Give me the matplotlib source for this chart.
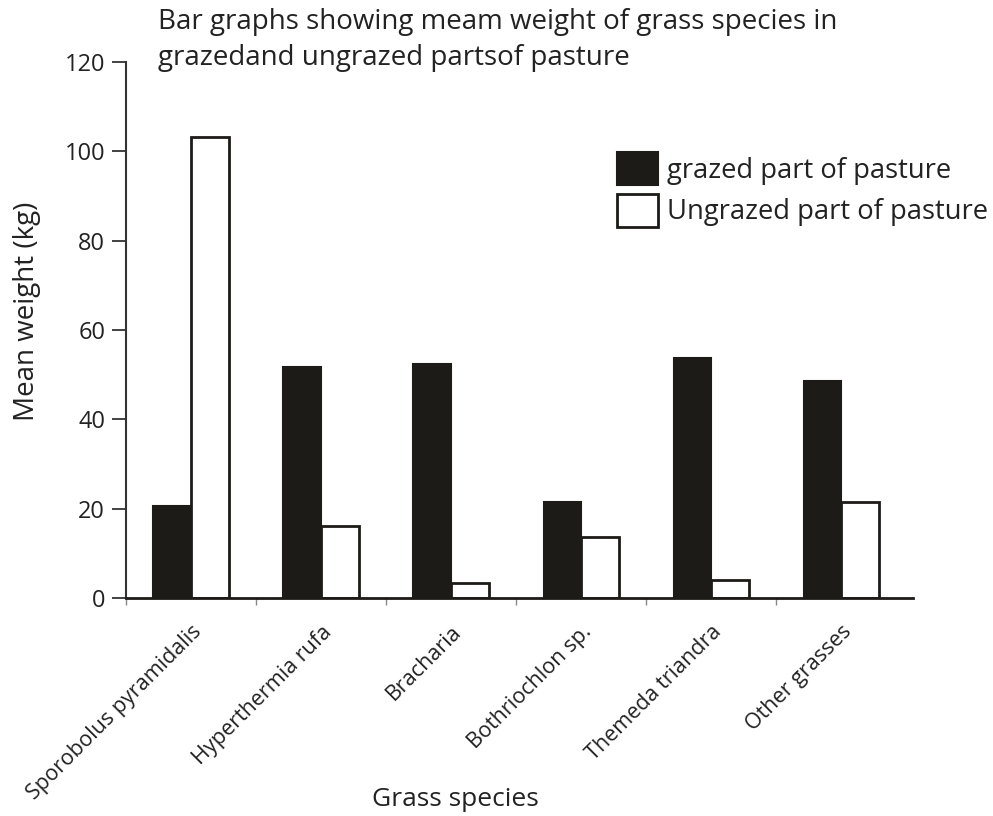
import matplotlib
matplotlib.use("Agg")
import matplotlib.pyplot as plt
from matplotlib.patches import Patch
import numpy as np

species = ['Sporobolus pyramidalis', 'Hyperthermia rufa', 'Bracharia',
           'Bothriochlon sp.', 'Themeda triandra', 'Other grasses']
grazed = [20.7, 51.7, 52.3, 21.6, 53.8, 48.5]
ungrazed = [103.2, 16.1, 3.4, 13.7, 4.1, 21.6]
y_ticks = [0, 20, 40, 60, 80, 100, 120]

plt.rcParams['font.family'] = ['Open Sans', 'DejaVu Sans']
ink = '#1c1b17'

fig = plt.figure(figsize=(9.93, 8.16), dpi=100)
ax = fig.add_axes([126 / 993, 1 - 598 / 816, 787 / 993, 536 / 816])

x = np.arange(len(species))
w = 0.29
ax.bar(x - w / 2, grazed, w, color=ink, edgecolor=ink, linewidth=1.5)
ax.bar(x + w / 2, ungrazed, w, color='white', edgecolor=ink, linewidth=2)

ax.set_xlim(-0.5, 5.55)
ax.set_ylim(0, 120)
ax.set_yticks(y_ticks)
ax.tick_params(axis='y', length=10, width=1.3, color='#333333', labelsize=17,
               labelcolor='#222222', pad=5)

# labels at category centres, small grey ticks at the boundaries
ax.set_xticks(x)
ax.set_xticklabels(species, rotation=45, ha='right', rotation_mode='anchor',
                   fontsize=15.5, color='#222222')
ax.tick_params(axis='x', which='major', length=0, pad=17)
ax.set_xticks(x - 0.5, minor=True)
ax.tick_params(axis='x', which='minor', length=5, width=1, color='#888888')

for side in ['top', 'right']:
    ax.spines[side].set_visible(False)
ax.spines['left'].set_linewidth(1.5)
ax.spines['bottom'].set_linewidth(2)
ax.spines['left'].set_color('#333333')
ax.spines['bottom'].set_color(ink)

fig.text(27 / 993, 1 - 311 / 816, 'Mean weight (kg)', fontsize=20, rotation=90,
         ha='center', va='center', color='#222222')
fig.text(455 / 993, 1 - 800 / 816, 'Grass species', fontsize=19,
         ha='center', va='center', color='#222222')

fig.text(158 / 993, 1 - 8 / 816,
         'Bar graphs showing meam weight of grass species in\ngrazedand ungrazed partsof pasture',
         fontsize=20, ha='left', va='top', linespacing=1.4, color='#222222')

handles = [Patch(facecolor=ink, edgecolor=ink, linewidth=1.5),
           Patch(facecolor='white', edgecolor=ink, linewidth=2)]
fig.legend(handles, ['grazed part of pasture', 'Ungrazed part of pasture'],
           loc='upper left', bbox_to_anchor=(617 / 993, 1 - 152 / 816),
           frameon=False, fontsize=19.7, handlelength=1.5, handleheight=1.5,
           handletextpad=0.32, labelspacing=0.3, borderpad=0, borderaxespad=0,
           labelcolor='#222222')

fig.savefig('out.png', dpi=100, facecolor='white')
